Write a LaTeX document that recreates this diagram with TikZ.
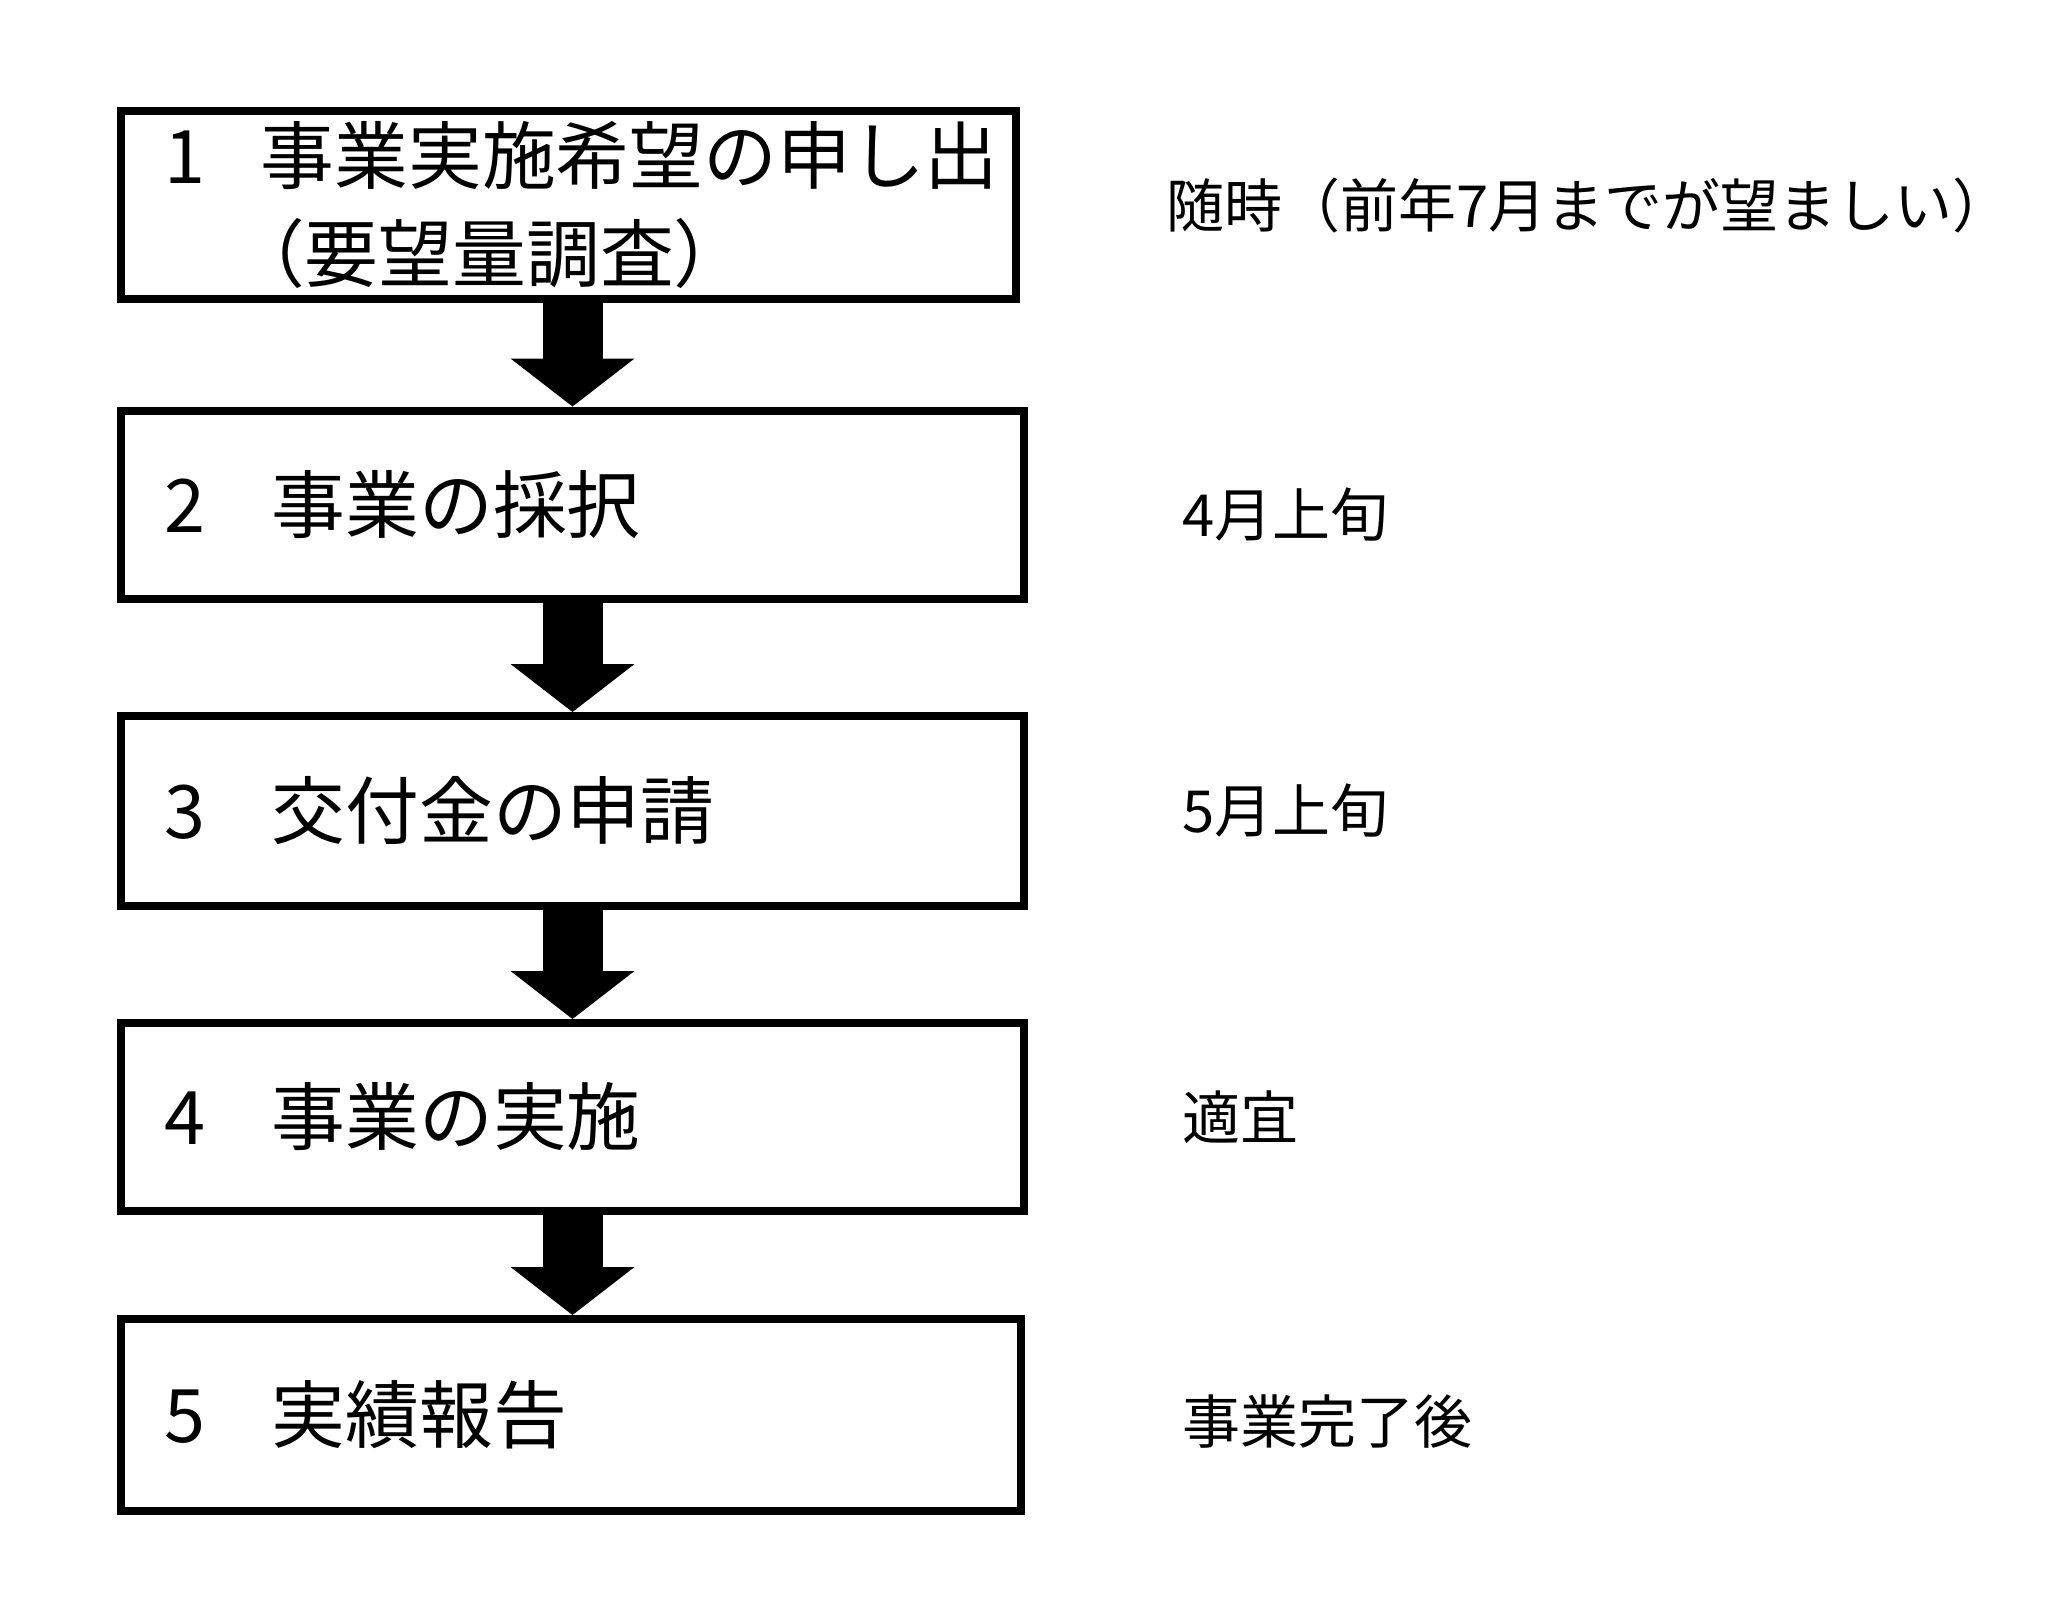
\documentclass[tikz,border=0pt]{standalone}
\usepackage{fontspec}
\setmainfont{Noto Sans CJK JP}
\usetikzlibrary{positioning,arrows.meta}

\begin{document}
\begin{tikzpicture}[x=0.1mm,y=-0.1mm,
  stepbox/.style={draw,line width=0.8mm,minimum height=18.8mm,inner sep=0pt},
  steptext/.style={inner sep=0pt,align=left,font=\fontsize{21pt}{27.9pt}\selectfont},
  timetext/.style={inner sep=0pt,font=\fontsize{16.5pt}{20pt}\selectfont},
  flowarrow/.style={line width=6mm,-{Triangle[width=12.4mm,length=4.8mm,line width=0pt]}}]
  \useasboundingbox (0,0) rectangle (2048,1600);
  % steps
  \node[stepbox,minimum width=89.5mm] (b1) at (568.5,205) {};
  \node[stepbox,minimum width=90.3mm] (b2) at (572.5,504.5) {};
  \node[stepbox,minimum width=90.3mm,minimum height=19mm] (b3) at (572.5,811) {};
  \node[stepbox,minimum width=90.3mm] (b4) at (572.5,1117) {};
  \node[stepbox,minimum width=90mm,minimum height=19.2mm] (b5) at (571,1415) {};
  \node[steptext,right=4.7mm of b1.west] (s1) {\makebox[1.3em][l]{1}事業実施希望の申し出\\\hspace*{0.9em}（要望量調査）};
  \node[steptext,right=4.7mm of b2.west] (s2) {\makebox[1.45em][l]{2}事業の採択};
  \node[steptext,right=4.7mm of b3.west] (s3) {\makebox[1.45em][l]{3}交付金の申請};
  \node[steptext,right=4.7mm of b4.west] (s4) {\makebox[1.45em][l]{4}事業の実施};
  \node[steptext,right=4.7mm of b5.west] (s5) {\makebox[1.45em][l]{5}実績報告};
  % timing
  \node[timetext,right=14.6mm of b1.east] (d1) {随時（前年7月までが望ましい）};
  \node[timetext,right=15.4mm of b2.east,yshift=-1mm] (d2) {4月上旬};
  \node[timetext,right=15.4mm of b3.east] (d3) {5月上旬};
  \node[timetext,right=15.4mm of b4.east] (d4) {適宜};
  \node[timetext,right=15.7mm of b5.east,yshift=-0.6mm] (d5) {事業完了後};
  % arrows
  \draw[flowarrow] (b1.south -| b2.north) -- (b2.north);
  \draw[flowarrow] (b2) -- (b3);
  \draw[flowarrow] (b3) -- (b4);
  \draw[flowarrow] (b4.south) -- (b5.north -| b4.south);
\end{tikzpicture}
\end{document}
